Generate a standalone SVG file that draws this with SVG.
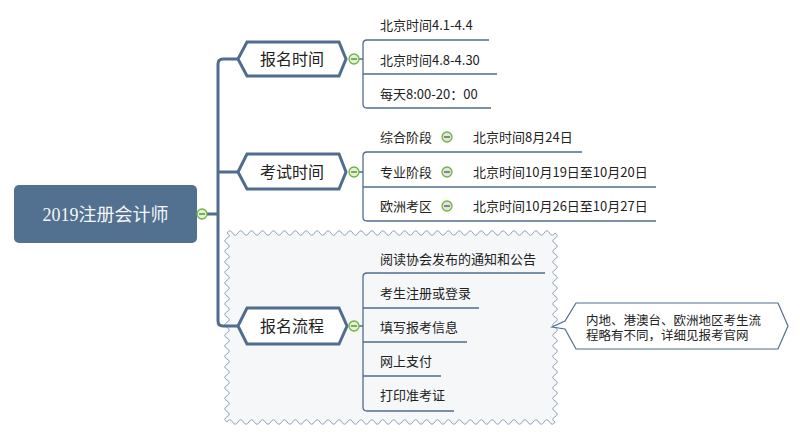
<svg xmlns="http://www.w3.org/2000/svg" width="800" height="436" viewBox="0 0 800 436">
<style>
text{font-family:"Noto Sans CJK SC","Liberation Sans",sans-serif;fill:#222}
.t{font-size:13px}
.c{font-size:12.5px}
.h{font-size:16px;text-anchor:middle}
.hex{fill:#fff;stroke:#4f6d8f;stroke-width:3;stroke-linejoin:miter}
.trunk{fill:none;stroke:#4f6d8f;stroke-width:3}
.thin{fill:none;stroke:#4f6d8f;stroke-width:1.3}
.cg{fill:#e4f1d6;stroke:#6db33f;stroke-width:1.3}
.cm{stroke:#3b8a1f;stroke-width:1.3}
.sg{fill:#e2e4e0;stroke:#6db33f;stroke-width:1.3}
.sm{stroke:#555;stroke-width:1.3}
</style>
<defs>
<g id="col"><circle r="5" class="cg"/><line x1="-3" y1="0" x2="3" y2="0" class="cm"/></g>
<g id="scol"><circle r="5" class="sg"/><line x1="-3" y1="0" x2="3" y2="0" class="sm"/></g>
</defs>
<rect width="800" height="436" fill="#fff"/>

<g id="boundary">
<path fill="#f5f7f9" stroke="#8ea2b8" stroke-width="1" d="M227,233 q2.733,-4.5 5.467,0 t5.467 0 t5.467 0 t5.467 0 t5.467 0 t5.467 0 t5.467 0 t5.467 0 t5.467 0 t5.467 0 t5.467 0 t5.467 0 t5.467 0 t5.467 0 t5.467 0 t5.467 0 t5.467 0 t5.467 0 t5.467 0 t5.467 0 t5.467 0 t5.467 0 t5.467 0 t5.467 0 t5.467 0 t5.467 0 t5.467 0 t5.467 0 t5.467 0 t5.467 0 t5.467 0 t5.467 0 t5.467 0 t5.467 0 t5.467 0 t5.467 0 t5.467 0 t5.467 0 t5.467 0 t5.467 0 t5.467 0 t5.467 0 t5.467 0 t5.467 0 t5.467 0 t5.467 0 t5.467 0 t5.467 0 t5.467 0 t5.467 0 t5.467 0 t5.467 0 t5.467 0 t5.467 0 t5.467 0 t5.467 0 t5.467 0 t5.467 0 t5.467 0 t5.467 0 q4.5,2.625 0,5.25 t0 5.25 t0 5.25 t0 5.25 t0 5.25 t0 5.25 t0 5.25 t0 5.25 t0 5.25 t0 5.25 t0 5.25 t0 5.25 t0 5.25 t0 5.25 t0 5.25 t0 5.25 t0 5.25 t0 5.25 t0 5.25 t0 5.25 t0 5.25 t0 5.25 t0 5.25 t0 5.25 t0 5.25 t0 5.25 t0 5.25 t0 5.25 t0 5.25 t0 5.25 t0 5.25 t0 5.25 t0 5.25 t0 5.25 t0 5.25 t0 5.25 q-2.733,4.5 -5.467,0 t-5.467 0 t-5.467 0 t-5.467 0 t-5.467 0 t-5.467 0 t-5.467 0 t-5.467 0 t-5.467 0 t-5.467 0 t-5.467 0 t-5.467 0 t-5.467 0 t-5.467 0 t-5.467 0 t-5.467 0 t-5.467 0 t-5.467 0 t-5.467 0 t-5.467 0 t-5.467 0 t-5.467 0 t-5.467 0 t-5.467 0 t-5.467 0 t-5.467 0 t-5.467 0 t-5.467 0 t-5.467 0 t-5.467 0 t-5.467 0 t-5.467 0 t-5.467 0 t-5.467 0 t-5.467 0 t-5.467 0 t-5.467 0 t-5.467 0 t-5.467 0 t-5.467 0 t-5.467 0 t-5.467 0 t-5.467 0 t-5.467 0 t-5.467 0 t-5.467 0 t-5.467 0 t-5.467 0 t-5.467 0 t-5.467 0 t-5.467 0 t-5.467 0 t-5.467 0 t-5.467 0 t-5.467 0 t-5.467 0 t-5.467 0 t-5.467 0 t-5.467 0 t-5.467 0 q-4.5,-2.625 0,-5.25 t0 -5.25 t0 -5.25 t0 -5.25 t0 -5.25 t0 -5.25 t0 -5.25 t0 -5.25 t0 -5.25 t0 -5.25 t0 -5.25 t0 -5.25 t0 -5.25 t0 -5.25 t0 -5.25 t0 -5.25 t0 -5.25 t0 -5.25 t0 -5.25 t0 -5.25 t0 -5.25 t0 -5.25 t0 -5.25 t0 -5.25 t0 -5.25 t0 -5.25 t0 -5.25 t0 -5.25 t0 -5.25 t0 -5.25 t0 -5.25 t0 -5.25 t0 -5.25 t0 -5.25 t0 -5.25 t0 -5.25 Z"/>
</g>

<g id="connectors">
<path class="trunk" d="M207,214 H218 M238,59 H223 Q218,59 218,64 V321 Q218,326 223,326 H238 M218,172 H238"/>
<path class="thin" d="M359,59 H363 M489,40 H367 Q363,40 363,44 V104 Q363,108 367,108 H491 M363,74 H497"/>
<path class="thin" d="M359,172 H363 M582,152 H367 Q363,152 363,156 V217 Q363,221 367,221 H656 M363,187 H656"/>
<path class="thin" d="M359,326 H363 M545,273 H367 Q363,273 363,277 V407 Q363,411 367,411 H454 M363,308 H479 M363,342 H467 M363,376 H441"/>
</g>

<g id="root">
<rect x="14" y="185" width="183" height="58" rx="5" fill="#52708f"/>
<text x="105.5" y="220.5" style="font-size:18px;text-anchor:middle;fill:#f4f6f8;font-family:'Liberation Serif','Noto Sans CJK SC',serif">2019注册会计师</text>
<use href="#col" x="202" y="214"/>
</g>

<g id="n-baoming">
<polygon class="hex" points="238,59 247,42 339,42 346,59 339,76 247,76"/>
<text class="h" x="292" y="65">报名时间</text>
<use href="#col" x="354" y="59"/>
</g>
<g id="n-bm1"><text class="t" x="380" y="30">北京时间4.1-4.4</text></g>
<g id="n-bm2"><text class="t" x="380" y="65">北京时间4.8-4.30</text></g>
<g id="n-bm3"><text class="t" x="380" y="98.5">每天8:00-20：00</text></g>

<g id="n-kaoshi">
<polygon class="hex" points="238,172 247,154 339,154 346,172 339,189 247,189"/>
<text class="h" x="292" y="178">考试时间</text>
<use href="#col" x="354" y="172"/>
</g>
<g id="n-ks1"><text class="t" x="380" y="142">综合阶段</text><use href="#scol" x="447" y="137"/></g>
<g id="n-ks1a"><text class="t" x="473" y="142">北京时间8月24日</text></g>
<g id="n-ks2"><text class="t" x="380" y="177">专业阶段</text><use href="#scol" x="447" y="172"/></g>
<g id="n-ks2a"><text class="t" x="473" y="177">北京时间10月19日至10月20日</text></g>
<g id="n-ks3"><text class="t" x="380" y="211">欧洲考区</text><use href="#scol" x="447" y="206"/></g>
<g id="n-ks3a"><text class="t" x="473" y="211">北京时间10月26日至10月27日</text></g>

<g id="n-liucheng">
<polygon class="hex" points="238,326 247,308 339,308 347,326 339,344 247,344"/>
<text class="h" x="292" y="332">报名流程</text>
<use href="#col" x="354" y="326"/>
</g>
<g id="n-lc1"><text class="t" x="380" y="263.5">阅读协会发布的通知和公告</text></g>
<g id="n-lc2"><text class="t" x="380" y="297.5">考生注册或登录</text></g>
<g id="n-lc3"><text class="t" x="380" y="332">填写报考信息</text></g>
<g id="n-lc4"><text class="t" x="380" y="366">网上支付</text></g>
<g id="n-lc5"><text class="t" x="380" y="400">打印准考证</text></g>

<g id="callout">
<path fill="#fff" stroke="#4f6d8f" stroke-width="1.2" d="M576,303 H778 L788,326 L778,349 H576 L565,329 L552,327 L565,321 Z"/>
<text class="c" x="586" y="324.5">内地、港澳台、欧洲地区考生流</text>
<text class="c" x="586" y="339.5">程略有不同，详细见报考官网</text>
</g>
</svg>
